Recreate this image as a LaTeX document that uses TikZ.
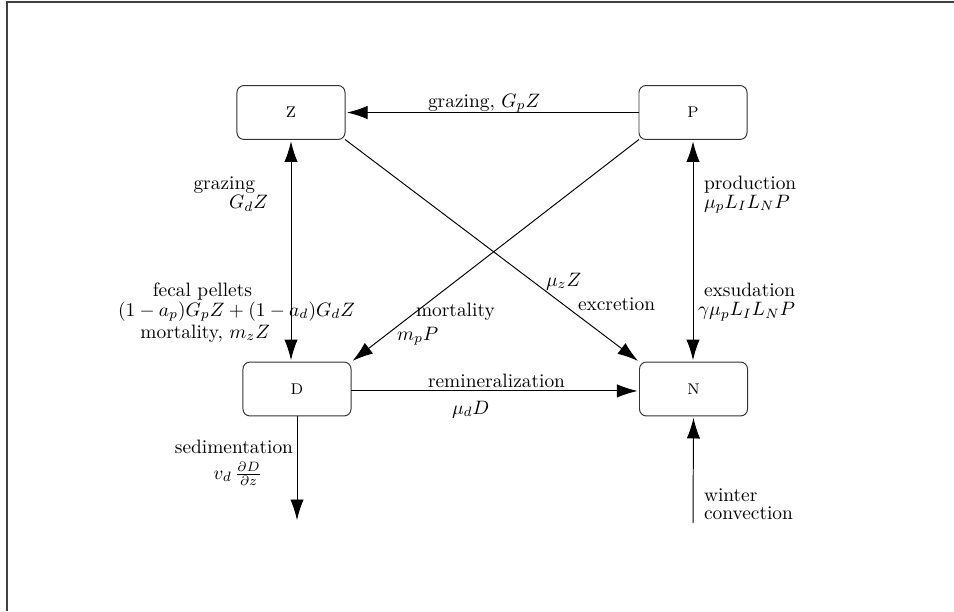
\documentclass[tikz,border=0pt]{standalone}
\usetikzlibrary{arrows.meta,calc}
\begin{document}
\begin{tikzpicture}[x=0.5155pt,y=-0.5155pt,
  box/.style={draw=black!80, line width=0.5pt, rounded corners=3.6pt, minimum width=55.7pt, minimum height=27.8pt, inner sep=0pt, outer sep=0pt, font=\footnotesize},
  tip/.tip={Latex[length=10.6pt,width=6.9pt]},
  flow/.style={draw=black, line width=0.5pt, -tip, shorten >=1pt},
  both/.style={draw=black, line width=0.5pt, tip-tip, shorten >=1pt, shorten <=1pt},
  lbl/.style={inner sep=0pt, outer sep=0pt}]
\useasboundingbox (0,0) rectangle (954,611);
\draw[black!75, line width=0.8pt] (954,2) -- (7,2) -- (7,611);

% boxes
\node[box] (Z) at (291,112.5) {Z};
\node[box] (P) at (693,112.5) {P};
\node[box] (D) at (297,389) {D};
\node[box] (N) at (693.5,389) {N};

\coordinate (sedEnd) at (297,522);
\coordinate (winStart) at (693,523);

% connectors
\draw[flow] (P.west) -- (Z.east);
\draw[both] (Z.south) -- (Z.south |- D.north);
\draw[both] (P.south) -- (P.south |- N.north);
\draw[flow] (Z.south east) -- (N.north west);
\draw[flow] (P.south west) -- (D.north east);
\draw[flow] ([yshift=-1pt]D.east) -- ([yshift=-1pt]D.east -| N.west);
\draw[flow] (D.south) -- (sedEnd);
\draw[flow] (winStart) -- (N.south);

% labels
\node[lbl, anchor=base west] (lGpZ) at (428,107) {grazing, $G_pZ$};
\node[lbl, anchor=base east] (lgr) at (255,189) {grazing};
\node[lbl, anchor=base east] (lGdZ) at (268,208.5) {$G_dZ$};
\node[lbl, anchor=base east] (lfec) at (252,296.5) {fecal pellets};
\node[lbl, anchor=base east] (lfec2) at (355,316) {$(1-a_p)G_pZ+(1-a_d)G_dZ$};
\node[lbl, anchor=base east] (lmz) at (270,338) {mortality, $m_zZ$};
\node[lbl, anchor=base west] (lprod) at (704,189) {production};
\node[lbl, anchor=base west] (lprod2) at (704,208) {$\mu_pL_IL_NP$};
\node[lbl, anchor=base west] (lexs) at (704,296) {exsudation};
\node[lbl, anchor=base west] (lexs2) at (698,315.5) {$\gamma\mu_pL_IL_NP$};
\node[lbl, anchor=base west] (lmuz) at (546,286) {$\mu_zZ$};
\node[lbl, anchor=base west] (lexc) at (578,310) {excretion};
\node[lbl, anchor=base west] (lmort) at (416,316) {mortality};
\node[lbl, anchor=base west] (lmp) at (397,340) {$m_pP$};
\node[lbl, anchor=base west] (lrem) at (428,387.5) {remineralization};
\node[lbl, anchor=base west] (lmud) at (452,414) {$\mu_dD$};
\node[lbl, anchor=base east] (lsed) at (293,453) {sedimentation};
\node[lbl, anchor=base east] (lsed2) at (262,479) {$v_d\,\frac{\partial D}{\partial z}$};
\node[lbl, anchor=base west] (lwin) at (704,501.5) {winter};
\node[lbl, anchor=base west] (lconv) at (704,519) {convection};
\end{tikzpicture}
\end{document}
